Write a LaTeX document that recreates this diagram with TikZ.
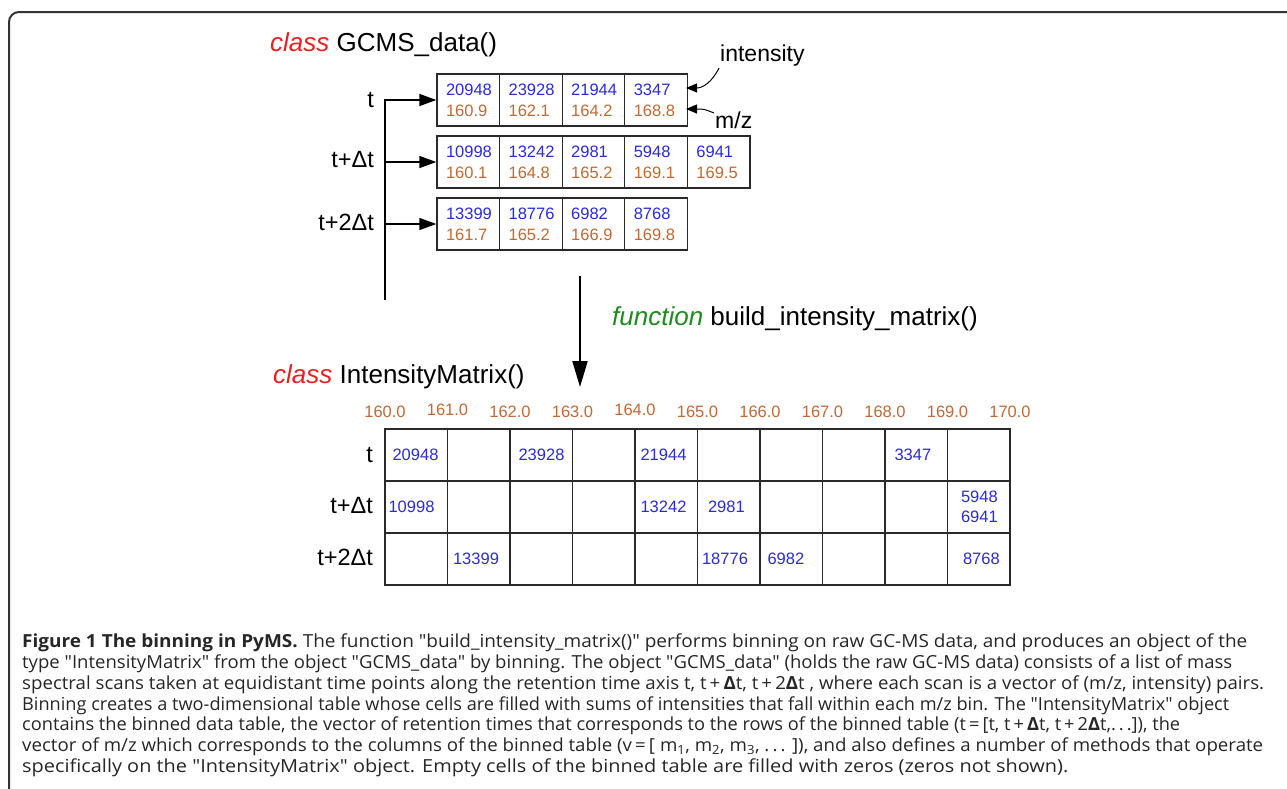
\documentclass[tikz,border=0pt]{standalone}
\usepackage{fontspec}
\usepackage{graphicx}
\setmainfont{Liberation Sans}
\newfontfamily\capfont{Open Sans}
\usetikzlibrary{arrows.meta}
\definecolor{clsred}{HTML}{E82020}
\definecolor{fngreen}{HTML}{1E8C1E}
\definecolor{intblue}{HTML}{2B2BD9}
\definecolor{mzbrown}{HTML}{C06A35}
\definecolor{framegray}{HTML}{333333}
\definecolor{linegray}{HTML}{2A2A2A}
\newcommand{\capline}[2]{\resizebox{#1pt}{\height}{#2}}
\begin{document}
\begin{tikzpicture}[x=1pt,y=-1pt,
  frameline/.style={draw=framegray,line width=2pt},
  title/.style={font=\fontsize{26}{30}\selectfont,inner sep=0pt,anchor=base west},
  rowlab/.style={font=\fontsize{23.5}{26}\selectfont,inner sep=0pt,anchor=east},
  side/.style={font=\fontsize{23}{26}\selectfont,inner sep=0pt,anchor=base west},
  scell/.style={draw=linegray,line width=1.3pt,minimum width=62.6pt,minimum height=52pt,
     text width=44.6pt,inner xsep=9pt,inner ysep=0pt,align=left,
     font=\fontsize{16.5}{21}\selectfont},
  mcell/.style={draw=linegray,line width=1.3pt,minimum width=62.5pt,minimum height=52pt,inner sep=0pt},
  hdr/.style={font=\fontsize{16.5}{20}\selectfont,text=mzbrown,inner sep=0pt},
  val/.style={font=\fontsize{16.5}{20}\selectfont,text=intblue,inner sep=0pt,anchor=west,align=left},
  conn/.style={draw=black,line width=1.3pt},
  tipS/.style={-{Triangle[length=17pt,width=12pt]}},
  tipL/.style={-{Triangle[length=26pt,width=15pt]}},
  tipT/.style={-{Triangle[length=11pt,width=9pt]}},
  caption/.style={font=\capfont\fontsize{18}{21}\selectfont,text=black!85,inner sep=0pt,anchor=west}
]
\useasboundingbox (0,0) rectangle (1287,788);
% frame
\draw[frameline,rounded corners=10pt] (9,800) -- (9,12) -- (1295,12);

% GCMS_data part
\node[title] (gt) at (270,51) {\textcolor{clsred}{\itshape class} GCMS\_data()};

\foreach \b/\m [count=\i] in {20948/160.9,23928/162.1,21944/164.2,3347/168.8}
  \node[scell] (sa\i) at ({437+62.6*(\i-0.5)},100) {\textcolor{intblue}{\b}\\\textcolor{mzbrown}{\m}};
\foreach \b/\m [count=\i] in {10998/160.1,13242/164.8,2981/165.2,5948/169.1,6941/169.5}
  \node[scell] (sb\i) at ({437+62.6*(\i-0.5)},162) {\textcolor{intblue}{\b}\\\textcolor{mzbrown}{\m}};
\foreach \b/\m [count=\i] in {13399/161.7,18776/165.2,6982/166.9,8768/169.8}
  \node[scell] (sc\i) at ({437+62.6*(\i-0.5)},224) {\textcolor{intblue}{\b}\\\textcolor{mzbrown}{\m}};

\node[rowlab] (la) at (374,100) {t};
\node[rowlab] (lb) at (374,160) {t+Δt};
\node[rowlab] (lc) at (374,222) {t+2Δt};

\coordinate (vbot) at (385,300);
\coordinate (vb) at (385,162);
\coordinate (vc) at (385,224);
\draw[conn,tipS] (vbot) |- (sa1.west);
\draw[conn,tipS] (vb) -- (sb1.west);
\draw[conn,tipS] (vc) -- (sc1.west);

\node[side] (int) at (720,61) {intensity};
\node[side] (mz) at (715,128) {m/z};
\coordinate (ia) at (719,68);
\coordinate (ie) at (686,88);
\coordinate (ma) at (714,113);
\coordinate (me) at (686,109);
\draw[conn,line width=1pt,tipT] (ia) .. controls (712,82) and (703,88) .. (ie);
\draw[conn,line width=1pt,tipT] (ma) .. controls (704,109) .. (me);

% function arrow
\coordinate (fa) at (580,276);
\coordinate (fb) at (580,387);
\draw[conn,line width=2pt,tipL] (fa) -- (fb);
\node[title] (fn) at (612,325) {\textcolor{fngreen}{\itshape function} build\_intensity\_matrix()};

% IntensityMatrix part
\node[title] (it) at (273,383) {\textcolor{clsred}{\itshape class} IntensityMatrix()};

\foreach \v/\dy [count=\c from 0] in {160.0/0,161.0/-2,162.0/0,163.0/0,164.0/-2,165.0/0,166.0/0,167.0/0,168.0/0,169.0/0,170.0/0}
  \node[hdr] (h\c) at ({385+62.5*\c},{412+\dy}) {\v};

\foreach \r in {1,2,3}
  \foreach \c in {1,...,10}
    \node[mcell] (m\r-\c) at ({385+62.5*(\c-0.5)},{429+52*(\r-0.5)}) {};

\node[rowlab] (r1) at (373,455) {t};
\node[rowlab] (r2) at (373,505) {t+Δt};
\node[rowlab] (r3) at (373,557) {t+2Δt};

\foreach \r/\c/\o/\t in {1/1/8/20948,1/3/9/23928,1/5/6/21944,1/9/10/3347,
   2/1/4/10998,2/5/6/13242,2/6/11/2981,
   3/2/6/13399,3/6/5/18776,3/7/8/6982,3/10/16/8768}
  \node[val] (v\r-\c) at ([xshift=\o pt]m\r-\c.west) {\t};
\node[val] (v2-10) at ([xshift=14pt]m2-10.west) {5948\\6941};

% caption
\node[caption] (c1) at (22,643) {\capline{1225}{\textbf{Figure 1 The binning in PyMS.} The function "build\_intensity\_matrix()" performs binning on raw GC-MS data, and produces an object of the}};
\node[caption] (c2) at (22,663.8) {\capline{1210}{type "IntensityMatrix" from the object "GCMS\_data" by binning. The object "GCMS\_data" (holds the raw GC-MS data) consists of a list of mass}};
\node[caption] (c3) at (22,684.6) {\capline{1242}{spectral scans taken at equidistant time points along the retention time axis t, t\,+\,\textbf{Δ}t, t\,+\,2\textbf{Δ}t , where each scan is a vector of (m/z, intensity) pairs.}};
\node[caption] (c4) at (22,705.4) {\capline{1207}{Binning creates a two-dimensional table whose cells are filled with sums of intensities that fall within each m/z bin. The "IntensityMatrix" object}};
\node[caption] (c5) at (22,726.2) {\capline{1158}{contains the binned data table, the vector of retention times that corresponds to the rows of the binned table (t\,=\,[t, t\,+\,\textbf{Δ}t, t\,+\,2\textbf{Δ}t,.\,.\,.]), the}};
\node[caption] (c6) at (22,747) {\capline{1241}{vector of m/z which corresponds to the columns of the binned table (v\,=\,[ m\textsubscript{1}, m\textsubscript{2}, m\textsubscript{3}, .\,.\,. ]), and also defines a number of methods that operate}};
\node[caption] (c7) at (22,767.8) {\capline{1046}{specifically on the "IntensityMatrix" object. Empty cells of the binned table are filled with zeros (zeros not shown).}};
\end{tikzpicture}
\end{document}
